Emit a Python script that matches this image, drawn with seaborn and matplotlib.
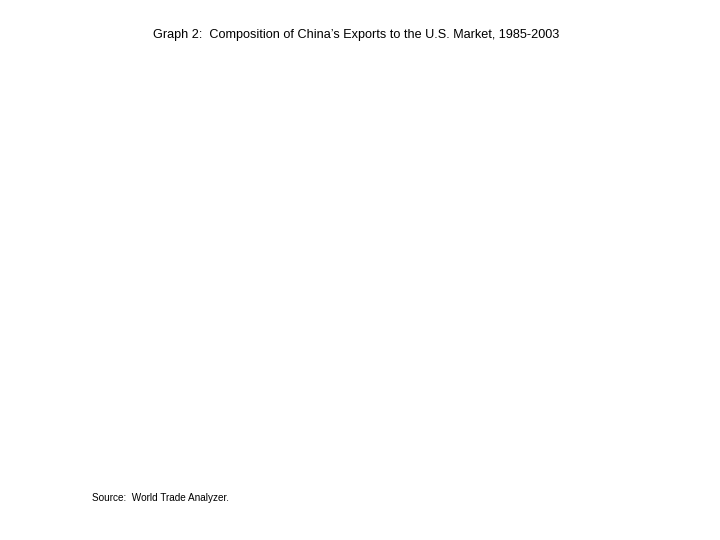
import matplotlib
matplotlib.use("Agg")
import matplotlib.pyplot as plt
import seaborn as sns

# Texto del gráfico (la imagen de referencia no muestra datos dibujados)
title_text = "Graph 2:  Composition of China’s Exports to the U.S. Market, 1985-2003"
source_text = "Source:  World Trade Analyzer."

sns.set_style("white")
plt.rcParams['font.family'] = ['Liberation Sans', 'DejaVu Sans']

fig = plt.figure(figsize=(7.2, 5.4), dpi=100)
ax = fig.add_axes([0.12, 0.12, 0.8, 0.75])
ax.axis("off")

fig.text(356 / 720, 1 - 35 / 540, title_text, ha="center", va="center",
         fontsize=9.1, color="black", fontweight="medium")
fig.text(92 / 720, 1 - 498 / 540, source_text, ha="left", va="center",
         fontsize=7.2, color="black")

fig.savefig("out.png", dpi=100, facecolor="white")
